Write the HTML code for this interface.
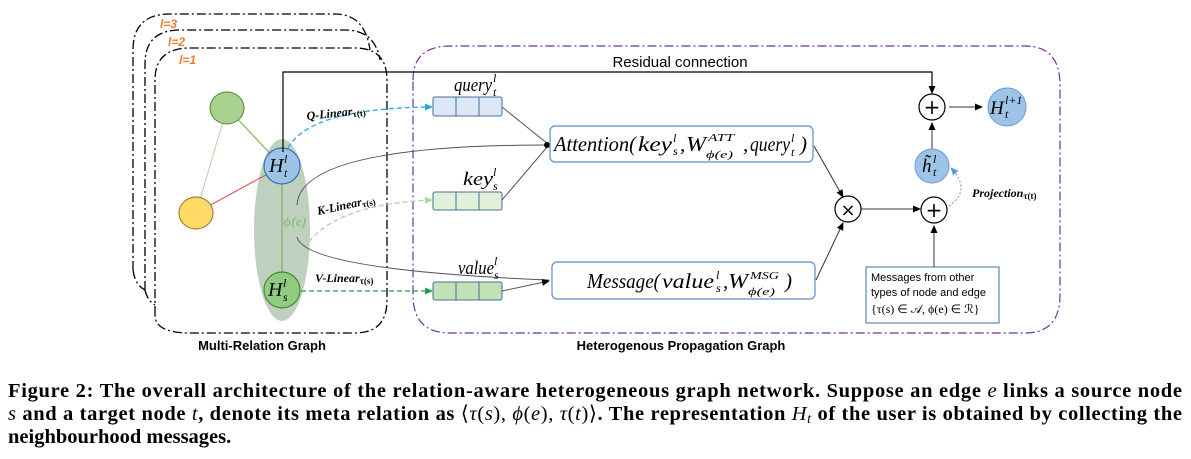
<!DOCTYPE html>
<html><head><meta charset="utf-8"><style>
body{margin:0;background:#fff;}
svg{display:block}
.m{font-family:"Liberation Serif",serif;font-style:italic}
.m text{}
</style></head><body>
<svg width="1191" height="459" viewBox="0 0 1191 459" xmlns="http://www.w3.org/2000/svg">
<defs>
<marker id="a" markerWidth="8" markerHeight="8" refX="7" refY="4" orient="auto" markerUnits="userSpaceOnUse"><path d="M0,0.5 L8,4 L0,7.5z" fill="#000"/></marker>
<marker id="ab" markerWidth="8" markerHeight="8" refX="7" refY="4" orient="auto" markerUnits="userSpaceOnUse"><path d="M0,0.5 L8,4 L0,7.5z" fill="#29a8e0"/></marker>
<marker id="ag" markerWidth="8" markerHeight="8" refX="7" refY="4" orient="auto" markerUnits="userSpaceOnUse"><path d="M0,0.5 L8,4 L0,7.5z" fill="#a8d8a0"/></marker>
<marker id="ad" markerWidth="8" markerHeight="8" refX="7" refY="4" orient="auto" markerUnits="userSpaceOnUse"><path d="M0,0.5 L8,4 L0,7.5z" fill="#1aa050"/></marker>
<marker id="ap" markerWidth="8" markerHeight="8" refX="7" refY="4" orient="auto" markerUnits="userSpaceOnUse"><path d="M0,0.5 L8,4 L0,7.5z" fill="#5b9bd5"/></marker>
</defs>
<g fill="none" stroke="#000" stroke-width="1.3" stroke-dasharray="9,3,2,3">
<path d="M133,270 L133,50 Q133,14 170,14 L335,14 Q365,14 370,50"/>
<path d="M145,290 L145,64 Q145,30 180,30 L345,30 Q375,30 380,60"/>
<path d="M133,270 Q135,285 145,290"/>
<path d="M145,290 Q147,300 155,305"/>
<path d="M155,315 L155,80 Q155,48 190,48 L355,48 Q387,48 387,80 L387,300 Q387,333 355,333 L190,333 Q155,333 155,315"/>
</g>
<g font-family="Liberation Sans,sans-serif" font-weight="bold" font-style="italic" font-size="12" fill="#ed7d31">
<text x="160" y="28">l=3</text><text x="168" y="46">l=2</text><text x="179" y="64">l=1</text></g>
<path d="M413,80 Q413,46 450,46 L1025,46 Q1060,46 1060,85 L1060,295 Q1060,333 1025,333 L450,333 Q413,333 413,295 Z" fill="none" stroke="#7030a0" stroke-width="1.2" stroke-dasharray="9,3,2,3"/>
<ellipse cx="282" cy="230" rx="28" ry="91" fill="#b4c8b4" opacity="0.85"/>
<line x1="227" y1="108" x2="282" y2="166" stroke="#70ad47" stroke-width="1"/>
<line x1="227" y1="108" x2="196" y2="213" stroke="#a8d8a0" stroke-width="1"/>
<line x1="196" y1="213" x2="282" y2="166" stroke="#e05050" stroke-width="1"/>
<line x1="282" y1="166" x2="282" y2="290" stroke="#70ad47" stroke-width="1"/>
<ellipse cx="227" cy="108" rx="17" ry="16" fill="#a9d18e" stroke="#538135" stroke-width="1"/>
<ellipse cx="196" cy="213" rx="17" ry="16" fill="#ffd966" stroke="#8a7020" stroke-width="1"/>
<circle cx="282" cy="166" r="18" fill="#9dc3e6" stroke="#2e75b6" stroke-width="1.2"/>
<circle cx="282" cy="290" r="18" fill="#8fcc7f" stroke="#538135" stroke-width="1.2"/>
<g class="m">
<text x="269" y="172" font-size="20">H</text><text x="284" y="163" font-size="12">l</text><text x="284" y="177" font-size="12">t</text>
<text x="268" y="296" font-size="20">H</text><text x="283" y="287" font-size="12">l</text><text x="283" y="301" font-size="12">s</text>
</g>
<text x="283" y="226" class="m" font-size="14" fill="#8fbf80" font-weight="bold">ϕ(e)</text>
<path d="M283,152 L283,72 L932,72 L932,93" fill="none" stroke="#000" stroke-width="1.2" marker-end="url(#a)"/>
<text x="680" y="67" font-family="Liberation Sans,sans-serif" font-size="15" text-anchor="middle">Residual connection</text>
<path d="M288,148 Q310,108 432,107" fill="none" stroke="#29a8e0" stroke-width="1.3" stroke-dasharray="5,3" marker-end="url(#ab)"/>
<path d="M295,270 Q310,205 432,200" fill="none" stroke="#a8d8a0" stroke-width="1.3" stroke-dasharray="5,3" marker-end="url(#ag)"/>
<line x1="301" y1="291" x2="432" y2="291" stroke="#1aa050" stroke-width="1.3" stroke-dasharray="5,3" marker-end="url(#ad)"/>
<g font-family="Liberation Serif,serif" font-weight="bold" font-style="italic" font-size="12">
<text x="307" y="120" transform="rotate(-6 307 120)">Q-Linear<tspan font-size="9" font-style="normal" dy="2">τ(t)</tspan></text>
<text x="318" y="215" transform="rotate(-12 318 215)">K-Linear<tspan font-size="9" font-style="normal" dy="2">τ(s)</tspan></text>
<text x="315" y="282">V-Linear<tspan font-size="9" font-style="normal" dy="2">τ(s)</tspan></text>
<text x="972" y="197">Projection<tspan font-size="9" font-style="normal" dy="2">τ(t)</tspan></text>
</g>
<path d="M297,205 Q300,145 549,145" fill="none" stroke="#555" stroke-width="1"/>
<path d="M297,237 Q305,270 549,280" fill="none" stroke="#555" stroke-width="1"/>
<g stroke="#41719c" stroke-width="1">
<rect x="433" y="97" width="69" height="19" rx="2" fill="#dde8f5"/><line x1="456" y1="97" x2="456" y2="116"/><line x1="479" y1="97" x2="479" y2="116"/>
<rect x="433" y="192" width="69" height="18" rx="2" fill="#e2f0d9"/><line x1="456" y1="192" x2="456" y2="210"/><line x1="479" y1="192" x2="479" y2="210"/>
<rect x="433" y="282" width="69" height="18" rx="2" fill="#c5e0b4"/><line x1="456" y1="282" x2="456" y2="300"/><line x1="479" y1="282" x2="479" y2="300"/>
</g>
<g class="m">
<text x="454" y="91" font-size="19" textLength="38" lengthAdjust="spacingAndGlyphs">query</text><text x="493" y="82" font-size="12">l</text><text x="493" y="96" font-size="12">t</text>
<text x="463" y="185" font-size="19" textLength="30" lengthAdjust="spacingAndGlyphs">key</text><text x="493" y="176" font-size="12">l</text><text x="493" y="190" font-size="12">s</text>
<text x="458" y="274" font-size="19" textLength="36" lengthAdjust="spacingAndGlyphs">value</text><text x="494" y="265" font-size="12">l</text><text x="494" y="279" font-size="12">s</text>
</g>
<line x1="502" y1="107" x2="548" y2="144" stroke="#555" stroke-width="1"/>
<line x1="502" y1="200" x2="548" y2="146" stroke="#555" stroke-width="1"/>
<circle cx="547" cy="145" r="3" fill="#000"/>
<line x1="502" y1="291" x2="549" y2="281" stroke="#555" stroke-width="1" marker-end="url(#a)"/>
<rect x="550" y="126" width="263" height="36" rx="5" fill="#fff" stroke="#5b8fc7" stroke-width="1.2"/>
<g class="m">
<text x="554" y="151" font-size="21" textLength="82" lengthAdjust="spacingAndGlyphs">Attention(</text>
<text x="638" y="151" font-size="21" textLength="34" lengthAdjust="spacingAndGlyphs">key</text>
<text x="673" y="142" font-size="12">l</text><text x="673" y="155" font-size="12">s</text>
<text x="680" y="151" font-size="21">,</text>
<text x="686" y="151" font-size="21" textLength="20" lengthAdjust="spacingAndGlyphs">W</text>
<text x="708" y="141" font-size="11" textLength="26" lengthAdjust="spacingAndGlyphs">ATT</text>
<text x="706" y="158" font-size="11" textLength="27" lengthAdjust="spacingAndGlyphs">ϕ(e)</text>
<text x="743" y="151" font-size="21">,</text>
<text x="750" y="151" font-size="21" textLength="40" lengthAdjust="spacingAndGlyphs">query</text>
<text x="791" y="142" font-size="12">l</text><text x="791" y="156" font-size="12">t</text>
<text x="800" y="151" font-size="21">)</text>
</g>
<rect x="552" y="262" width="263" height="37" rx="5" fill="#fff" stroke="#5b8fc7" stroke-width="1.2"/>
<g class="m">
<text x="587" y="288" font-size="21" textLength="73" lengthAdjust="spacingAndGlyphs">Message(</text>
<text x="662" y="288" font-size="21" textLength="52" lengthAdjust="spacingAndGlyphs">value</text>
<text x="716" y="279" font-size="12">l</text><text x="716" y="292" font-size="12">s</text>
<text x="723" y="288" font-size="21">,</text>
<text x="728" y="288" font-size="21" textLength="20" lengthAdjust="spacingAndGlyphs">W</text>
<text x="750" y="279" font-size="11" textLength="29" lengthAdjust="spacingAndGlyphs">MSG</text>
<text x="748" y="295" font-size="11" textLength="27" lengthAdjust="spacingAndGlyphs">ϕ(e)</text>
<text x="785" y="288" font-size="21">)</text>
</g>
<line x1="814" y1="146" x2="843" y2="197" stroke="#333" stroke-width="1" marker-end="url(#a)"/>
<line x1="816" y1="280" x2="843" y2="223" stroke="#333" stroke-width="1" marker-end="url(#a)"/>
<line x1="861" y1="209" x2="920" y2="209" stroke="#333" stroke-width="1" marker-end="url(#a)"/>
<g fill="#fff" stroke="#000" stroke-width="1.2">
<circle cx="848" cy="209" r="13"/><circle cx="934" cy="210" r="13"/><circle cx="932" cy="107" r="13"/></g>
<text x="848" y="216" text-anchor="middle" font-family="DejaVu Sans,sans-serif" font-size="18">×</text>
<text x="934" y="217" text-anchor="middle" font-family="DejaVu Sans,sans-serif" font-size="20">+</text>
<text x="932" y="114" text-anchor="middle" font-family="DejaVu Sans,sans-serif" font-size="20">+</text>
<line x1="949" y1="107" x2="982" y2="107" stroke="#333" stroke-width="1" marker-end="url(#a)"/>
<circle cx="1007" cy="107" r="19" fill="#9dc3e6" stroke="#6a9bd0"/>
<line x1="932" y1="149" x2="932" y2="123" stroke="#333" stroke-width="1" marker-end="url(#a)"/>
<circle cx="932" cy="166" r="17" fill="#9dc3e6" stroke="#6a9bd0"/>
<g class="m">
<text x="990" y="114" font-size="19">H</text><text x="1005" y="104" font-size="12">l+1</text><text x="1005" y="118" font-size="12">t</text>
<text x="922" y="172" font-size="19">h̃</text><text x="933" y="163" font-size="12">l</text><text x="933" y="176" font-size="12">t</text>
</g>
<path d="M949,206 Q972,190 951,168" fill="none" stroke="#5b9bd5" stroke-width="1" stroke-dasharray="2,2" marker-end="url(#ap)"/>
<line x1="934" y1="267" x2="934" y2="226" stroke="#333" stroke-width="1" marker-end="url(#a)"/>
<rect x="866" y="267" width="133" height="56" fill="#fff" stroke="#41719c" stroke-width="1"/>
<g font-family="Liberation Sans,sans-serif" font-size="11"><text x="871" y="281">Messages from other</text><text x="871" y="296">types of node and edge</text>
<text x="871" y="313" font-family="Liberation Serif,serif" font-size="12">{τ(s) ∈ 𝒜, ϕ(e) ∈ ℛ}</text></g>
<g font-family="Liberation Sans,sans-serif" font-weight="bold" font-size="13">
<text x="262" y="350" text-anchor="middle">Multi-Relation Graph</text>
<text x="681" y="350" text-anchor="middle">Heterogenous Propagation Graph</text></g>
<g font-family="Liberation Serif,serif" font-weight="bold" font-size="20.5">
<text x="8" y="397" textLength="1174" lengthAdjust="spacing">Figure 2: The overall architecture of the relation-aware heterogeneous graph network. Suppose an edge <tspan font-style="italic" font-weight="normal">e</tspan> links a source node</text>
<text x="8" y="420" textLength="1174" lengthAdjust="spacing"><tspan font-style="italic" font-weight="normal">s</tspan> and a target node <tspan font-style="italic" font-weight="normal">t</tspan>, denote its meta relation as <tspan font-weight="normal">⟨<tspan font-style="italic">τ</tspan>(<tspan font-style="italic">s</tspan>), <tspan font-style="italic">ϕ</tspan>(<tspan font-style="italic">e</tspan>), <tspan font-style="italic">τ</tspan>(<tspan font-style="italic">t</tspan>)⟩</tspan>. The representation <tspan font-style="italic" font-weight="normal">H<tspan font-size="14" dy="3">t</tspan></tspan><tspan dy="-3"> of the user is obtained by collecting the</tspan></text>
<text x="8" y="443">neighbourhood messages.</text></g>
</svg>
</body></html>
